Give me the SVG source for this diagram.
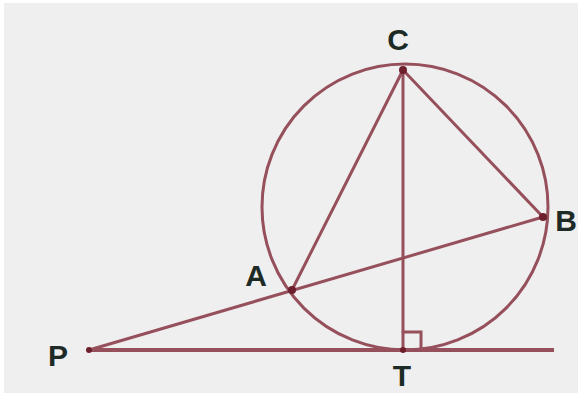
<svg xmlns="http://www.w3.org/2000/svg" width="578" height="393" viewBox="0 0 578 393">
<style>
.ln{stroke:#96505c;stroke-width:3;fill:none;stroke-linecap:round}
.tg{stroke:#96505c;stroke-width:4;fill:none}
.pt{fill:#6e1f2c}
.lb{font-family:"Liberation Sans",Arial,sans-serif;font-weight:bold;font-size:30px;fill:#1e2a26;text-anchor:middle}
</style>
<rect width="578" height="393" fill="#ffffff"/>
<rect x="4" y="3" width="574" height="390" fill="#efefef"/>
<g id="connectors">
<circle id="circle" class="ln" cx="405" cy="207" r="143"/>
<line class="tg" x1="89" y1="350" x2="554" y2="350"/>
<line class="ln" x1="89" y1="350" x2="543" y2="217"/>
<line class="ln" x1="403" y1="70" x2="292" y2="290"/>
<line class="ln" x1="403" y1="70" x2="543" y2="217"/>
<line class="ln" x1="403" y1="70" x2="403" y2="350"/>
<polyline class="ln" points="403,332 421,332 421,350"/>
</g>
<g id="C"><circle class="pt" cx="403" cy="70" r="4"/><text class="lb" x="398" y="50">C</text></g>
<g id="B"><circle class="pt" cx="543" cy="217" r="4"/><text class="lb" x="566" y="231">B</text></g>
<g id="A"><circle class="pt" cx="292" cy="290" r="4"/><text class="lb" x="256" y="286">A</text></g>
<g id="P"><circle class="pt" cx="89" cy="350" r="3"/><text class="lb" x="58" y="366">P</text></g>
<g id="T"><circle class="pt" cx="403" cy="350" r="3"/><text class="lb" x="402" y="386">T</text></g>
</svg>
